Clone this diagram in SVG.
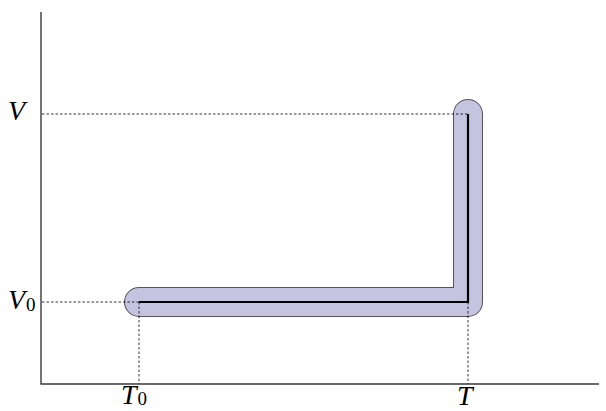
<svg xmlns="http://www.w3.org/2000/svg" width="606" height="411" viewBox="0 0 606 411">
<style>
.axis{stroke:#3a3a3a;stroke-width:1.4;fill:none}
.dash{stroke:#000;stroke-width:0.8;stroke-dasharray:2.5,2;fill:none}
.lbl{font-family:"Liberation Serif",serif;font-style:italic;font-size:28px;fill:#000}
.sub{font-family:"Liberation Serif",serif;font-style:normal;font-size:19px}
</style>
<rect width="606" height="411" fill="#fff"/>
<g id="band">
<path d="M139,302 H468 V114" fill="none" stroke="#555" stroke-width="30" stroke-linecap="round" stroke-linejoin="round"/>
<path d="M139,302 H468 V114" fill="none" stroke="#c6c3e0" stroke-width="28" stroke-linecap="round" stroke-linejoin="round"/>
</g>
<g id="connectors">
<path class="dash" d="M42,114 H468"/>
<path class="dash" d="M42,302 H139"/>
<path class="dash" d="M139,302 V384"/>
<path class="dash" d="M468,302 V384"/>
</g>
<g id="path-line">
<path d="M139,302 H468 V114" fill="none" stroke="#000" stroke-width="2.2"/>
</g>
<g id="axes">
<path class="axis" d="M41,12 V384 H599"/>
</g>
<g id="labels">
<text class="lbl" x="8" y="120">V</text>
<text class="lbl" x="8" y="309">V<tspan class="sub" dx="1" dy="2">0</tspan></text>
<text class="lbl" x="121" y="404">T<tspan class="sub" dx="1" dy="1">0</tspan></text>
<text class="lbl" x="457" y="405">T</text>
</g>
</svg>
